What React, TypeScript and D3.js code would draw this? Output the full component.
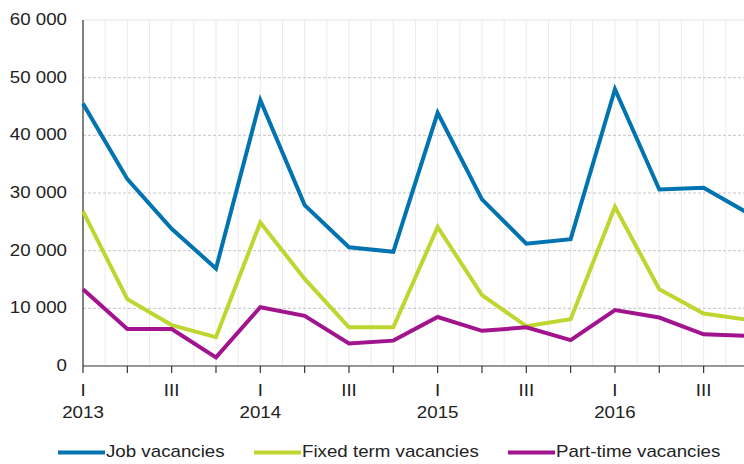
import React from "react";
import * as d3 from "d3";

const years = ["2013", "2014", "2015", "2016"];
const quarterNames = ["I", "II", "III", "IV"];
const quarters = years.flatMap((y) => quarterNames.map((q) => `${y} ${q}`));

const jobVacancies = [45500, 32400, 23800, 16900, 46100, 27900, 20600, 19800, 43900, 28900, 21200, 22000, 48000, 30600, 30900, 26500];
const fixedTerm = [26800, 11600, 7100, 5000, 24900, 15100, 6700, 6700, 24100, 12300, 6900, 8100, 27600, 13300, 9100, 8000];
const partTime = [13300, 6400, 6400, 1500, 10200, 8700, 3900, 4400, 8500, 6100, 6700, 4500, 9700, 8400, 5500, 5200];

const yTicks = [0, 10000, 20000, 30000, 40000, 50000, 60000];

const series = [
  { name: "Job vacancies", values: jobVacancies, color: "#0073b0" },
  { name: "Fixed term vacancies", values: fixedTerm, color: "#bfd630" },
  { name: "Part-time vacancies", values: partTime, color: "#a2148d" },
];

const width = 744;
const height = 464;
const plotLeft = 83;
const step = 44.33;
const plotTop = 20;
const plotBottom = 366;
const font = "'Liberation Sans', Arial, sans-serif";
const stretch = 1.17;

// text stretched horizontally like the reference rendering
function Label({ x, y, anchor = "start", children }: any) {
  return (
    <text
      transform={`translate(${x},${y}) scale(${stretch},1)`}
      textAnchor={anchor}
      fontFamily={font}
      fontSize={16}
      fill="#222"
    >
      {children}
    </text>
  );
}

export default function App() {
  const x = d3.scalePoint<string>()
    .domain(quarters)
    .range([plotLeft, plotLeft + step * (quarters.length - 1)]);

  const y = d3.scaleLinear().domain([0, 60000]).range([plotBottom, plotTop]);

  const line = d3.line<number>()
    .x((_, i) => x(quarters[i]) as number)
    .y((d) => y(d));

  const fmt = (v: number) => d3.format(",")(v).replace(",", " ");

  const halfSteps = d3.range(0, quarters.length * 2).map((i) => plotLeft + (i * step) / 2);

  const legendItems = [
    { lx: 58, tx: 106 },
    { lx: 254, tx: 302 },
    { lx: 508, tx: 556 },
  ];

  return (
    <svg
      width={width}
      height={height}
      style={{ position: "fixed", left: 0, top: 0, background: "#fff", overflow: "hidden" }}
    >
      {/* vertical grid */}
      {halfSteps.map((gx, i) => (
        <line key={i} x1={gx} x2={gx} y1={plotTop} y2={plotBottom} stroke="#ebebeb" strokeWidth={1} />
      ))}
      {/* horizontal grid */}
      {yTicks.filter((t) => t > 0).map((t) => (
        <line
          key={t}
          x1={plotLeft}
          x2={width}
          y1={y(t)}
          y2={y(t)}
          stroke={t === 60000 ? "#e2e2e2" : "#c9c2c9"}
          strokeDasharray={t === 60000 ? undefined : "3,2"}
          strokeWidth={1}
        />
      ))}
      {yTicks.map((t) => (
        <Label key={t} x={67} y={y(t) + 5} anchor="end">{fmt(t)}</Label>
      ))}

      {/* axes */}
      <line x1={plotLeft} x2={plotLeft} y1={plotTop} y2={plotBottom} stroke="#333" strokeWidth={1.2} />
      <line x1={plotLeft} x2={width} y1={plotBottom} y2={plotBottom} stroke="#333" strokeWidth={1.2} />
      {quarters.map((q) => (
        <line key={q} x1={x(q)} x2={x(q)} y1={plotBottom} y2={plotBottom + 7} stroke="#333" strokeWidth={1.2} />
      ))}
      {quarters.map((q, i) =>
        i % 2 === 0 ? (
          <Label key={q} x={x(q)} y={396} anchor="middle">{quarterNames[i % 4]}</Label>
        ) : null
      )}
      {years.map((yr, i) => (
        <Label key={yr} x={x(quarters[i * 4])} y={418} anchor="middle">{yr}</Label>
      ))}

      {/* series */}
      {series.map((s) => (
        <path key={s.name} d={line(s.values) ?? ""} fill="none" stroke={s.color} strokeWidth={4} />
      ))}

      {/* legend */}
      {series.map((s, i) => (
        <g key={s.name}>
          <line
            x1={legendItems[i].lx}
            x2={legendItems[i].lx + 47}
            y1={452.5}
            y2={452.5}
            stroke={s.color}
            strokeWidth={4}
          />
          <Label x={legendItems[i].tx} y={457}>{s.name}</Label>
        </g>
      ))}
    </svg>
  );
}
